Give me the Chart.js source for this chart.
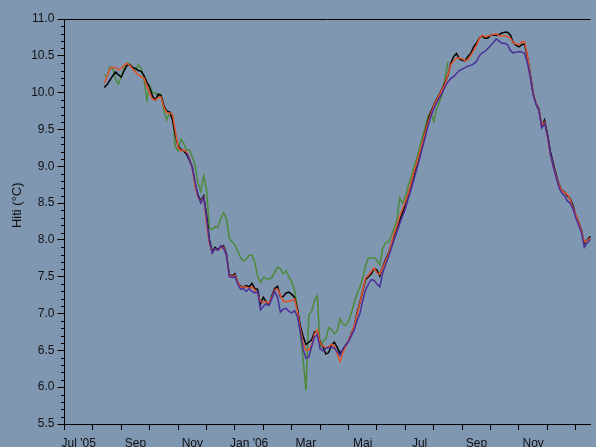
<!DOCTYPE html>
<html>
<head>
<meta charset="utf-8">
<script src="https://cdn.jsdelivr.net/npm/chart.js@4.4.0/dist/chart.umd.min.js"></script>
<style>
	html, body { margin: 0; padding: 0; background: #8097b2; }
	#wrap { position: relative; width: 596px; height: 447px; }
</style>
</head>
<body>
<div id="wrap"><canvas id="hiti-grafica"></canvas></div>
<script>
// months counted from 1 Jul 2005, one value every 0.1 month
const step = 0.1;
const tickLabels = ["Jul '05", "Sep", "Nov", "Jan '06", "Mar", "Maj", "Jul", "Sep", "Nov"];
const yTicks = { min: 5.5, max: 11.0, step: 0.5 };

const blackStart = 1.4;
const black = [
	10.07, 10.11, 10.17, 10.23, 10.28, 10.24, 10.21, 10.30, 10.37, 10.38,
	10.34, 10.33, 10.30, 10.29, 10.23, 10.14, 10.07, 9.95, 9.90, 9.98,
	9.96, 9.82, 9.75, 9.74, 9.63, 9.43, 9.27, 9.23, 9.21, 9.16,
	9.08, 8.99, 8.75, 8.61, 8.53, 8.60, 8.34, 8.01, 7.84, 7.90,
	7.87, 7.90, 7.92, 7.81, 7.53, 7.51, 7.54, 7.42, 7.37, 7.36,
	7.38, 7.36, 7.41, 7.34, 7.33, 7.13, 7.22, 7.16, 7.13, 7.24,
	7.34, 7.37, 7.23, 7.23, 7.28, 7.29, 7.26, 7.22, 7.06, 6.84,
	6.69, 6.58, 6.61, 6.64, 6.75, 6.76, 6.61, 6.55, 6.45, 6.47,
	6.57, 6.61, 6.54, 6.46, 6.51, 6.57, 6.63, 6.73, 6.82, 7.01,
	7.15, 7.31, 7.46, 7.50, 7.54, 7.61, 7.59, 7.51, 7.63, 7.73,
	7.81, 7.93, 8.06, 8.16, 8.27, 8.37, 8.49, 8.62, 8.75, 8.88,
	9.01, 9.16, 9.31, 9.47, 9.63, 9.74, 9.83, 9.91, 9.98, 10.06,
	10.14, 10.24, 10.40, 10.49, 10.53, 10.46, 10.44, 10.43, 10.49, 10.53,
	10.62, 10.67, 10.74, 10.77, 10.74, 10.74, 10.78, 10.78, 10.78, 10.79,
	10.81, 10.82, 10.82, 10.78, 10.68, 10.64, 10.62, 10.65, 10.66, 10.48,
	10.24, 9.99, 9.85, 9.78, 9.54, 9.63, 9.44, 9.21, 9.05, 8.90,
	8.76, 8.68, 8.65, 8.60, 8.56, 8.47, 8.33, 8.24, 8.13, 7.95,
	8.00, 8.04, 8.05
];

const redStart = 1.4;
const red = [
	10.13, 10.22, 10.33, 10.34, 10.34, 10.31, 10.33, 10.37, 10.40, 10.37,
	10.32, 10.28, 10.24, 10.21, 10.20, 10.09, 9.99, 9.91, 9.90, 9.93,
	9.94, 9.80, 9.73, 9.72, 9.71, 9.48, 9.26, 9.21, 9.22, 9.19,
	9.11, 8.97, 8.72, 8.58, 8.52, 8.58, 8.22, 7.95, 7.83, 7.88,
	7.86, 7.89, 7.90, 7.79, 7.52, 7.50, 7.52, 7.43, 7.36, 7.36,
	7.36, 7.34, 7.36, 7.32, 7.27, 7.17, 7.15, 7.16, 7.14, 7.22,
	7.32, 7.33, 7.25, 7.17, 7.16, 7.17, 7.18, 7.20, 7.03, 6.80,
	6.60, 6.50, 6.50, 6.57, 6.72, 6.78, 6.60, 6.56, 6.53, 6.55,
	6.58, 6.56, 6.45, 6.35, 6.47, 6.55, 6.64, 6.72, 6.83, 6.99,
	7.14, 7.32, 7.48, 7.52, 7.57, 7.62, 7.55, 7.53, 7.62, 7.71,
	7.80, 7.94, 8.08, 8.19, 8.32, 8.42, 8.52, 8.63, 8.77, 8.92,
	9.04, 9.18, 9.32, 9.46, 9.60, 9.71, 9.82, 9.90, 9.97, 10.05,
	10.12, 10.25, 10.38, 10.43, 10.47, 10.47, 10.46, 10.43, 10.45, 10.51,
	10.57, 10.64, 10.73, 10.78, 10.76, 10.77, 10.78, 10.79, 10.80, 10.77,
	10.77, 10.78, 10.76, 10.74, 10.68, 10.66, 10.65, 10.69, 10.69, 10.50,
	10.22, 9.98, 9.86, 9.77, 9.56, 9.60, 9.40, 9.16, 9.02, 8.88,
	8.75, 8.68, 8.64, 8.62, 8.55, 8.44, 8.34, 8.24, 8.12, 7.97,
	7.99, 8.02, 8.03
];

const purpleStart = 4.3;
const purple = [
	9.18, 9.09, 8.98, 8.78, 8.60, 8.50, 8.58, 8.30, 7.98, 7.82, 7.88,
	7.86, 7.92, 7.88, 7.80, 7.50, 7.49, 7.50, 7.40, 7.33, 7.34,
	7.30, 7.34, 7.30, 7.28, 7.30, 7.05, 7.10, 7.13, 7.11, 7.20,
	7.30, 7.22, 7.02, 7.06, 7.07, 7.03, 7.01, 7.04, 6.96, 6.75,
	6.52, 6.39, 6.41, 6.55, 6.68, 6.71, 6.52, 6.49, 6.53, 6.54,
	6.54, 6.53, 6.48, 6.43, 6.52, 6.57, 6.62, 6.70, 6.78, 6.90,
	7.00, 7.18, 7.32, 7.40, 7.46, 7.45, 7.40, 7.36, 7.55, 7.66,
	7.76, 7.88, 8.00, 8.10, 8.22, 8.32, 8.42, 8.56, 8.68, 8.82,
	8.96, 9.10, 9.25, 9.40, 9.55, 9.68, 9.78, 9.86, 9.93, 10.00,
	10.08, 10.15, 10.19, 10.22, 10.26, 10.30, 10.32, 10.34, 10.36, 10.37,
	10.39, 10.42, 10.50, 10.54, 10.56, 10.60, 10.64, 10.68, 10.73, 10.70,
	10.67, 10.67, 10.65, 10.57, 10.54, 10.55, 10.56, 10.55, 10.53, 10.40,
	10.20, 9.97, 9.84, 9.76, 9.52, 9.58, 9.42, 9.18, 9.00, 8.86,
	8.72, 8.64, 8.60, 8.53, 8.50, 8.42, 8.30, 8.20, 8.10, 7.90,
	7.96, 8.00, 8.01
];

const greenStart = 1.4;
const green = [
	10.24, 10.22, 10.35, 10.33, 10.18, 10.12, 10.22, 10.33, 10.40, 10.39,
	10.33, 10.30, 10.38, 10.33, 10.18, 9.90, 10.10, 10.00, 10.00, 9.95,
	9.98, 9.75, 9.63, 9.73, 9.69, 9.27, 9.21, 9.37, 9.31, 9.22,
	9.22, 9.13, 9.01, 8.77, 8.66, 8.87, 8.69, 8.16, 8.14, 8.18,
	8.17, 8.29, 8.37, 8.29, 8.02, 7.98, 7.93, 7.85, 7.76, 7.71,
	7.74, 7.79, 7.79, 7.69, 7.51, 7.42, 7.49, 7.48, 7.46, 7.49,
	7.56, 7.63, 7.61, 7.54, 7.58, 7.50, 7.43, 7.31, 7.08, 6.73,
	6.38, 5.96, 6.98, 7.03, 7.18, 7.24, 6.54, 6.62, 6.66, 6.81,
	6.78, 6.73, 6.76, 6.93, 6.86, 6.84, 6.90, 7.01, 7.15, 7.27,
	7.36, 7.49, 7.65, 7.76, 7.75, 7.76, 7.72, 7.66, 7.88, 7.96,
	7.97, 8.05, 8.16, 8.27, 8.57, 8.50, 8.59, 8.74, 8.85, 8.99,
	9.11, 9.25, 9.40, 9.53, 9.69, 9.73, 9.61, 9.78, 9.87, 9.98,
	10.20, 10.42
];

(function () {
	const ctx = document.getElementById("hiti-grafica");
	const fuente = "'Liberation Sans', Arial, sans-serif";

	function puntos(start, values) {
		return values.map((v, i) => ({ x: start + i * step, y: v }));
	}

	function serie(data, color) {
		return {
			data: data,
			borderColor: color,
			borderWidth: 1.5,
			pointRadius: 0,
			tension: 0,
			fill: false,
		};
	}

	// short minor ticks on the y axis and the frame line along the top
	const ejeMenor = {
		id: "ejeMenor",
		afterDraw(chart) {
			const { ctx, chartArea, scales } = chart;
			const y = scales.y;
			ctx.save();
			ctx.strokeStyle = "#000";
			ctx.lineWidth = 1;
			ctx.beginPath();
			for (let k = 56; k < 110; k++) {
				if (k % 5 === 0) continue;
				const py = Math.round(y.getPixelForValue(k / 10)) + 0.5;
				ctx.moveTo(chartArea.left - 3.5, py);
				ctx.lineTo(chartArea.left, py);
			}
			ctx.moveTo(chartArea.left, Math.round(chartArea.top) + 0.5);
			ctx.lineTo(chartArea.right, Math.round(chartArea.top) + 0.5);
			ctx.stroke();
			ctx.restore();
		},
	};

	new Chart(ctx, {
		type: "line",
		data: {
			datasets: [
				serie(puntos(purpleStart, purple), "#4a2e98"),
				serie(puntos(redStart, red), "#e0522a"),
				serie(puntos(blackStart, black), "#000000"),
				serie(puntos(greenStart, green), "#4d8a3a"),
			],
		},
		options: {
			responsive: true,
			maintainAspectRatio: false,
			animation: false,
			devicePixelRatio: 1,
			layout: { padding: { top: 19, left: 0, right: 0, bottom: 0 } },
			scales: {
				x: {
					type: "linear",
					min: 0,
					max: 18.52,
					afterFit(scale) {
						scale.height = 23;
					},
					ticks: {
						stepSize: 0.5,
						autoSkip: false,
						maxRotation: 0,
						includeBounds: false,
						padding: 6,
						color: "#111",
						font: { family: fuente, size: 12 },
						callback: (v) => {
							const r = Math.round(v * 2);
							return r % 4 === 1 ? tickLabels[(r - 1) / 4] || "" : "";
						},
					},
					grid: {
						drawOnChartArea: false,
						tickLength: 6,
						tickWidth: 1,
						tickColor: (c) => (c.tick && Math.round(c.tick.value * 2) % 2 === 0 ? "#000" : "rgba(0,0,0,0)"),
					},
					border: { color: "#000", width: 1 },
				},
				y: {
					min: yTicks.min,
					max: yTicks.max,
					afterFit(scale) {
						scale.width = 64.5;
					},
					ticks: {
						stepSize: yTicks.step,
						padding: 3,
						color: "#111",
						font: { family: fuente, size: 12 },
						callback: (v) => v.toFixed(1),
					},
					grid: {
						drawOnChartArea: false,
						tickLength: 7,
						tickColor: "#000",
					},
					border: { color: "#000", width: 1 },
					title: {
						display: true,
						text: "         Hiti (°C)",
						color: "#111",
						font: { family: fuente, size: 13 },
						padding: { top: 10, bottom: 0 },
					},
				},
			},
			plugins: {
				legend: { display: false },
				tooltip: { enabled: false },
			},
		},
		plugins: [ejeMenor],
	});
})();
</script>
</body>
</html>
